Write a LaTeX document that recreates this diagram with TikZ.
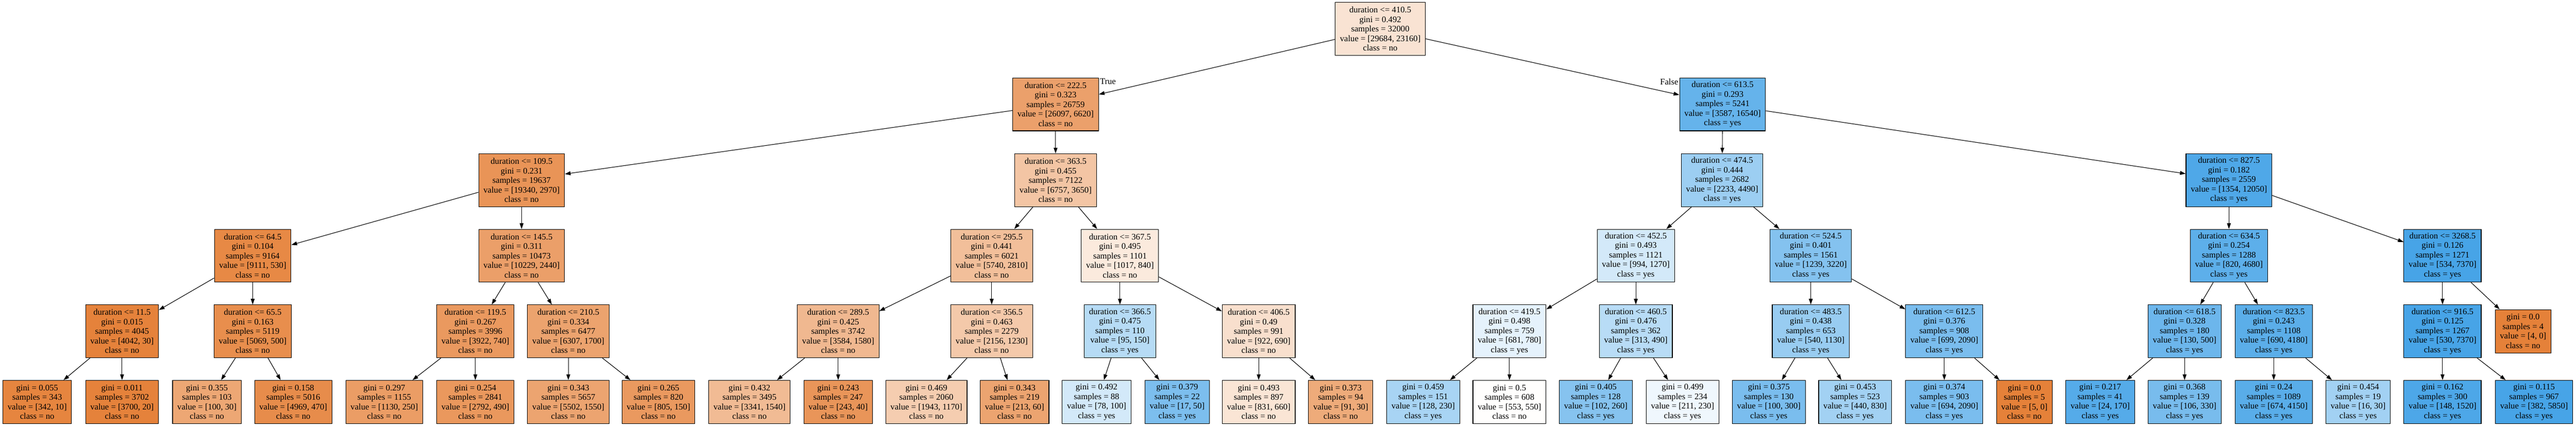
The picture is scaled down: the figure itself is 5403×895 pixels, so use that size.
\documentclass[tikz,border=0pt]{standalone}
\usepackage{fontspec}
\setmainfont{Liberation Serif}
\usetikzlibrary{arrows.meta}
\definecolor{noclass}{RGB}{229,129,57}
\definecolor{yesclass}{RGB}{57,157,229}
\tikzset{
    split/.style = {draw, align=center, line width=0.6pt, inner xsep=5pt, inner ysep=2pt, minimum height=55.5pt, font=\fontsize{9}{10}\selectfont},
    leaf/.style = {split, minimum height=45.5pt},
    side/.style = {inner sep=1pt, font=\fontsize{9}{10}\selectfont},
    tip/.style = {line width=0.6pt, -{Triangle[length=6pt, width=4pt]}}
}

\begin{document}
\begin{tikzpicture}
        [
            x = 0.5pt, y = -0.5pt
        ]
        \useasboundingbox (0,0) rectangle (5403,895);
        % depth 0 and 1
        \node[split, fill=noclass!22!white]  (root) at (2895,60.5) {duration <= 410.5\\gini = 0.492\\samples = 32000\\value = [29684, 23160]\\class = no};
        \node[split, fill=noclass!75!white]  (l)    at (2214,219)  {duration <= 222.5\\gini = 0.323\\samples = 26759\\value = [26097, 6620]\\class = no};
        \node[split, fill=yesclass!78!white] (r)    at (3613,219)  {duration <= 613.5\\gini = 0.293\\samples = 5241\\value = [3587, 16540]\\class = yes};
        % depth 2
        \node[split, fill=noclass!85!white]  (ll)   at (1094,378)  {duration <= 109.5\\gini = 0.231\\samples = 19637\\value = [19340, 2970]\\class = no};
        \node[split, fill=noclass!46!white]  (lr)   at (2214,378)  {duration <= 363.5\\gini = 0.455\\samples = 7122\\value = [6757, 3650]\\class = no};
        \node[split, fill=yesclass!50!white] (rl)   at (3612,378)  {duration <= 474.5\\gini = 0.444\\samples = 2682\\value = [2233, 4490]\\class = yes};
        \node[split, fill=yesclass!89!white] (rr)   at (4675,378)  {duration <= 827.5\\gini = 0.182\\samples = 2559\\value = [1354, 12050]\\class = yes};
        % depth 3
        \node[split, fill=noclass!94!white]  (lll)  at (530,536.5)  {duration <= 64.5\\gini = 0.104\\samples = 9164\\value = [9111, 530]\\class = no};
        \node[split, fill=noclass!76!white]  (llr)  at (1094,536.5) {duration <= 145.5\\gini = 0.311\\samples = 10473\\value = [10229, 2440]\\class = no};
        \node[split, fill=noclass!51!white]  (lrl)  at (2080,536.5) {duration <= 295.5\\gini = 0.441\\samples = 6021\\value = [5740, 2810]\\class = no};
        \node[split, fill=noclass!17!white]  (lrr)  at (2349,536.5) {duration <= 367.5\\gini = 0.495\\samples = 1101\\value = [1017, 840]\\class = no};
        \node[split, fill=yesclass!22!white] (rll)  at (3431,536.5) {duration <= 452.5\\gini = 0.493\\samples = 1121\\value = [994, 1270]\\class = yes};
        \node[split, fill=yesclass!62!white] (rlr)  at (3798,536.5) {duration <= 524.5\\gini = 0.401\\samples = 1561\\value = [1239, 3220]\\class = yes};
        \node[split, fill=yesclass!82!white] (rrl)  at (4675,536.5) {duration <= 634.5\\gini = 0.254\\samples = 1288\\value = [820, 4680]\\class = yes};
        \node[split, fill=yesclass!93!white] (rrr)  at (5123,536.5) {duration <= 3268.5\\gini = 0.126\\samples = 1271\\value = [534, 7370]\\class = yes};
        % depth 4
        \node[split, fill=noclass!99!white]  (llll) at (256,695)  {duration <= 11.5\\gini = 0.015\\samples = 4045\\value = [4042, 30]\\class = no};
        \node[split, fill=noclass!90!white]  (lllr) at (530,695)  {duration <= 65.5\\gini = 0.163\\samples = 5119\\value = [5069, 500]\\class = no};
        \node[split, fill=noclass!81!white]  (llrl) at (997,695)  {duration <= 119.5\\gini = 0.267\\samples = 3996\\value = [3922, 740]\\class = no};
        \node[split, fill=noclass!73!white]  (llrr) at (1192,695) {duration <= 210.5\\gini = 0.334\\samples = 6477\\value = [6307, 1700]\\class = no};
        \node[split, fill=noclass!56!white]  (lrll) at (1758,695) {duration <= 289.5\\gini = 0.425\\samples = 3742\\value = [3584, 1580]\\class = no};
        \node[split, fill=noclass!43!white]  (lrlr) at (2080,695) {duration <= 356.5\\gini = 0.463\\samples = 2279\\value = [2156, 1230]\\class = no};
        \node[split, fill=yesclass!37!white] (lrrl) at (2349,695) {duration <= 366.5\\gini = 0.475\\samples = 110\\value = [95, 150]\\class = yes};
        \node[split, fill=noclass!25!white]  (lrrr) at (2640,695) {duration <= 406.5\\gini = 0.49\\samples = 991\\value = [922, 690]\\class = no};
        \node[split, fill=yesclass!13!white] (rlll) at (3166,695) {duration <= 419.5\\gini = 0.498\\samples = 759\\value = [681, 780]\\class = yes};
        \node[split, fill=yesclass!36!white] (rllr) at (3431,695) {duration <= 460.5\\gini = 0.476\\samples = 362\\value = [313, 490]\\class = yes};
        \node[split, fill=yesclass!52!white] (rlrl) at (3798,695) {duration <= 483.5\\gini = 0.438\\samples = 653\\value = [540, 1130]\\class = yes};
        \node[split, fill=yesclass!67!white] (rlrr) at (4078,695) {duration <= 612.5\\gini = 0.376\\samples = 908\\value = [699, 2090]\\class = yes};
        \node[split, fill=yesclass!74!white] (rrll) at (4582,695) {duration <= 618.5\\gini = 0.328\\samples = 180\\value = [130, 500]\\class = yes};
        \node[split, fill=yesclass!83!white] (rrlr) at (4769,695) {duration <= 823.5\\gini = 0.243\\samples = 1108\\value = [690, 4180]\\class = yes};
        \node[split, fill=yesclass!93!white] (rrrl) at (5123,695) {duration <= 916.5\\gini = 0.125\\samples = 1267\\value = [530, 7370]\\class = yes};
        \node[leaf, fill=noclass]            (rrrr) at (5292,695) {gini = 0.0\\samples = 4\\value = [4, 0]\\class = no};
        % depth 5, leaves
        \node[leaf, fill=noclass!97!white]   (lllll) at (78,843.5)   {gini = 0.055\\samples = 343\\value = [342, 10]\\class = no};
        \node[leaf, fill=noclass!99!white]   (llllr) at (256,843.5)  {gini = 0.011\\samples = 3702\\value = [3700, 20]\\class = no};
        \node[leaf, fill=noclass!70!white]   (lllrl) at (434,843.5)  {gini = 0.355\\samples = 103\\value = [100, 30]\\class = no};
        \node[leaf, fill=noclass!91!white]   (lllrr) at (615,843.5)  {gini = 0.158\\samples = 5016\\value = [4969, 470]\\class = no};
        \node[leaf, fill=noclass!78!white]   (llrll) at (806,843.5)  {gini = 0.297\\samples = 1155\\value = [1130, 250]\\class = no};
        \node[leaf, fill=noclass!82!white]   (llrlr) at (997,843.5)  {gini = 0.254\\samples = 2841\\value = [2792, 490]\\class = no};
        \node[leaf, fill=noclass!72!white]   (llrrl) at (1192,843.5) {gini = 0.343\\samples = 5657\\value = [5502, 1550]\\class = no};
        \node[leaf, fill=noclass!81!white]   (llrrr) at (1381,843.5) {gini = 0.265\\samples = 820\\value = [805, 150]\\class = no};
        \node[leaf, fill=noclass!54!white]   (lrlll) at (1572,843.5) {gini = 0.432\\samples = 3495\\value = [3341, 1540]\\class = no};
        \node[leaf, fill=noclass!84!white]   (lrllr) at (1758,843.5) {gini = 0.243\\samples = 247\\value = [243, 40]\\class = no};
        \node[leaf, fill=noclass!40!white]   (lrlrl) at (1943,843.5) {gini = 0.469\\samples = 2060\\value = [1943, 1170]\\class = no};
        \node[leaf, fill=noclass!72!white]   (lrlrr) at (2128,843.5) {gini = 0.343\\samples = 219\\value = [213, 60]\\class = no};
        \node[leaf, fill=yesclass!22!white]  (lrrll) at (2300,843.5) {gini = 0.492\\samples = 88\\value = [78, 100]\\class = yes};
        \node[leaf, fill=yesclass!66!white]  (lrrlr) at (2469,843.5) {gini = 0.379\\samples = 22\\value = [17, 50]\\class = yes};
        \node[leaf, fill=noclass!21!white]   (lrrrl) at (2640,843.5) {gini = 0.493\\samples = 897\\value = [831, 660]\\class = no};
        \node[leaf, fill=noclass!67!white]   (lrrrr) at (2812,843.5) {gini = 0.373\\samples = 94\\value = [91, 30]\\class = no};
        \node[leaf, fill=yesclass!44!white]  (rllll) at (2985,843.5) {gini = 0.459\\samples = 151\\value = [128, 230]\\class = yes};
        \node[leaf, fill=noclass!1!white]    (rlllr) at (3166,843.5) {gini = 0.5\\samples = 608\\value = [553, 550]\\class = no};
        \node[leaf, fill=yesclass!61!white]  (rllrl) at (3347,843.5) {gini = 0.405\\samples = 128\\value = [102, 260]\\class = yes};
        \node[leaf, fill=yesclass!8!white]   (rllrr) at (3529,843.5) {gini = 0.499\\samples = 234\\value = [211, 230]\\class = yes};
        \node[leaf, fill=yesclass!67!white]  (rlrll) at (3710,843.5) {gini = 0.375\\samples = 130\\value = [100, 300]\\class = yes};
        \node[leaf, fill=yesclass!47!white]  (rlrlr) at (3891,843.5) {gini = 0.453\\samples = 523\\value = [440, 830]\\class = yes};
        \node[leaf, fill=yesclass!67!white]  (rlrrl) at (4078,843.5) {gini = 0.374\\samples = 903\\value = [694, 2090]\\class = yes};
        \node[leaf, fill=noclass]            (rlrrr) at (4246,843.5) {gini = 0.0\\samples = 5\\value = [5, 0]\\class = no};
        \node[leaf, fill=yesclass!86!white]  (rrlll) at (4405,843.5) {gini = 0.217\\samples = 41\\value = [24, 170]\\class = yes};
        \node[leaf, fill=yesclass!68!white]  (rrllr) at (4582,843.5) {gini = 0.368\\samples = 139\\value = [106, 330]\\class = yes};
        \node[leaf, fill=yesclass!84!white]  (rrlrl) at (4769,843.5) {gini = 0.24\\samples = 1089\\value = [674, 4150]\\class = yes};
        \node[leaf, fill=yesclass!47!white]  (rrlrr) at (4946,843.5) {gini = 0.454\\samples = 19\\value = [16, 30]\\class = yes};
        \node[leaf, fill=yesclass!90!white]  (rrrll) at (5123,843.5) {gini = 0.162\\samples = 300\\value = [148, 1520]\\class = yes};
        \node[leaf, fill=yesclass!93!white]  (rrrlr) at (5315,843.5) {gini = 0.115\\samples = 967\\value = [382, 5850]\\class = yes};
        % branch labels
        \node[side, anchor=north west] (true)  at (l.north east) {True};
        \node[side, anchor=north east] (false) at (r.north west) {False};
        % arrows
        \draw[tip] (root) -- (l);   \draw[tip] (root) -- (r);
        \draw[tip] (l) -- (ll);     \draw[tip] (l) -- (lr);
        \draw[tip] (r) -- (rl);     \draw[tip] (r) -- (rr);
        \draw[tip] (ll) -- (lll);   \draw[tip] (ll) -- (llr);
        \draw[tip] (lr) -- (lrl);   \draw[tip] (lr) -- (lrr);
        \draw[tip] (rl) -- (rll);   \draw[tip] (rl) -- (rlr);
        \draw[tip] (rr) -- (rrl);   \draw[tip] (rr) -- (rrr);
        \draw[tip] (lll) -- (llll); \draw[tip] (lll) -- (lllr);
        \draw[tip] (llr) -- (llrl); \draw[tip] (llr) -- (llrr);
        \draw[tip] (lrl) -- (lrll); \draw[tip] (lrl) -- (lrlr);
        \draw[tip] (lrr) -- (lrrl); \draw[tip] (lrr) -- (lrrr);
        \draw[tip] (rll) -- (rlll); \draw[tip] (rll) -- (rllr);
        \draw[tip] (rlr) -- (rlrl); \draw[tip] (rlr) -- (rlrr);
        \draw[tip] (rrl) -- (rrll); \draw[tip] (rrl) -- (rrlr);
        \draw[tip] (rrr) -- (rrrl); \draw[tip] (rrr) -- (rrrr);
        \draw[tip] (llll) -- (lllll); \draw[tip] (llll) -- (llllr);
        \draw[tip] (lllr) -- (lllrl); \draw[tip] (lllr) -- (lllrr);
        \draw[tip] (llrl) -- (llrll); \draw[tip] (llrl) -- (llrlr);
        \draw[tip] (llrr) -- (llrrl); \draw[tip] (llrr) -- (llrrr);
        \draw[tip] (lrll) -- (lrlll); \draw[tip] (lrll) -- (lrllr);
        \draw[tip] (lrlr) -- (lrlrl); \draw[tip] (lrlr) -- (lrlrr);
        \draw[tip] (lrrl) -- (lrrll); \draw[tip] (lrrl) -- (lrrlr);
        \draw[tip] (lrrr) -- (lrrrl); \draw[tip] (lrrr) -- (lrrrr);
        \draw[tip] (rlll) -- (rllll); \draw[tip] (rlll) -- (rlllr);
        \draw[tip] (rllr) -- (rllrl); \draw[tip] (rllr) -- (rllrr);
        \draw[tip] (rlrl) -- (rlrll); \draw[tip] (rlrl) -- (rlrlr);
        \draw[tip] (rlrr) -- (rlrrl); \draw[tip] (rlrr) -- (rlrrr);
        \draw[tip] (rrll) -- (rrlll); \draw[tip] (rrll) -- (rrllr);
        \draw[tip] (rrlr) -- (rrlrl); \draw[tip] (rrlr) -- (rrlrr);
        \draw[tip] (rrrl) -- (rrrll); \draw[tip] (rrrl) -- (rrrlr);
    \end{tikzpicture}
\end{document}
